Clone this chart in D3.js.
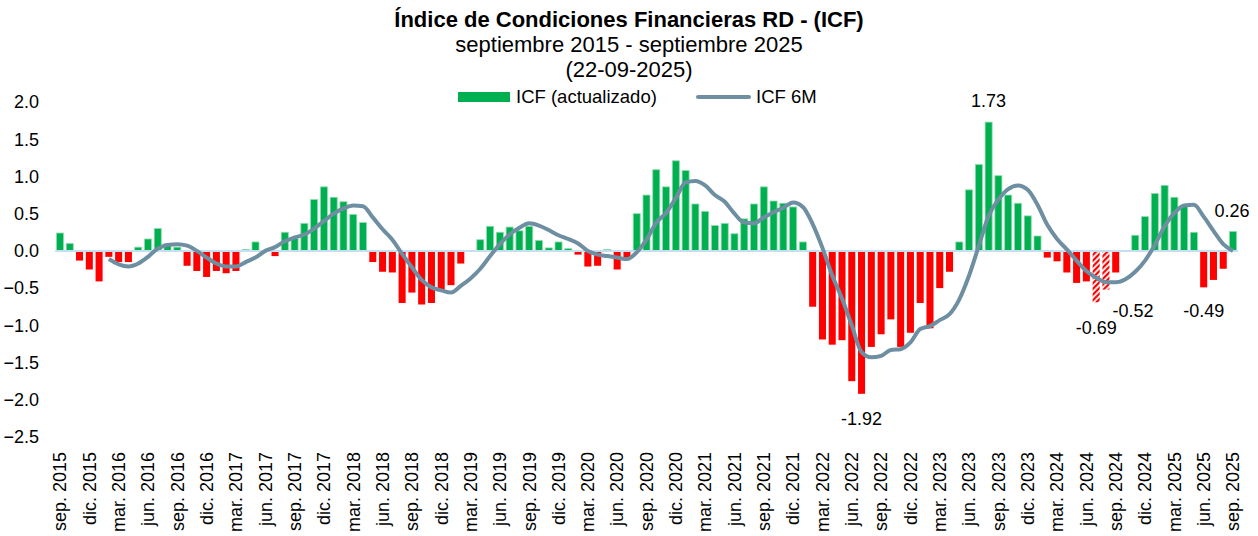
<!DOCTYPE html>
<html>
<head>
<meta charset="utf-8">
<script src="https://cdn.jsdelivr.net/npm/d3@7"></script>
<style>
  html, body { margin: 0; padding: 0; background: #fff; }
  svg { display: block; font-family: "Liberation Sans", Arial, sans-serif; }
</style>
</head>
<body>
<svg id="chart" width="1258" height="536"></svg>
<script>
// ---------- DATA ----------
const titleText = "Índice de Condiciones Financieras RD - (ICF)";
const subtitleText = "septiembre 2015 - septiembre 2025";
const dateText = "(22-09-2025)";
const legendBars = "ICF (actualizado)";
const legendLine = "ICF 6M";

// monthly ICF values, sep 2015 .. sep 2025
const icf = [
  0.24, 0.10, -0.13, -0.25, -0.41, -0.08, -0.15, -0.15, 0.05, 0.16,
  0.30, 0.10, 0.05, -0.20, -0.27, -0.35, -0.27, -0.30, -0.27, 0.02,
  0.12, 0.00, -0.07, 0.25, 0.17, 0.37, 0.69, 0.86, 0.72, 0.66,
  0.49, 0.38, -0.15, -0.28, -0.29, -0.70, -0.56, -0.72, -0.70, -0.52,
  -0.46, -0.17, 0.00, 0.15, 0.33, 0.25, 0.32, 0.27, 0.33, 0.14,
  0.04, 0.12, 0.03, -0.05, -0.21, -0.20, 0.02, -0.25, -0.09, 0.50,
  0.75, 1.09, 0.86, 1.21, 1.08, 0.63, 0.53, 0.34, 0.37, 0.23,
  0.43, 0.63, 0.86, 0.67, 0.64, 0.59, 0.12, -0.75, -1.19, -1.26,
  -1.20, -1.75, -1.92, -1.29, -1.12, -0.92, -1.29, -1.10, -0.70, -1.04,
  -0.50, -0.28, 0.12, 0.82, 1.16, 1.73, 1.01, 0.75, 0.64, 0.47,
  0.20, -0.09, -0.14, -0.29, -0.43, -0.41, -0.69, -0.52, -0.29, 0.00,
  0.21, 0.46, 0.77, 0.88, 0.72, 0.61, 0.25, -0.49, -0.39, -0.24,
  0.26
];

// bars drawn hatched (revised months)
const hatchedIdx = [106, 107];

// ICF 6M line (starts feb 2016)
const icf6m = [
  null, null, null, null, null, -0.11, -0.18, -0.21, -0.17, -0.08,
  0.03, 0.08, 0.09, 0.07, 0.00, -0.09, -0.17, -0.21, -0.21, -0.15,
  -0.09, 0.00, 0.05, 0.13, 0.18, 0.22, 0.30, 0.40, 0.50, 0.57,
  0.61, 0.60, 0.45, 0.29, 0.15, -0.04, -0.22, -0.39, -0.49, -0.53,
  -0.56, -0.47, -0.37, -0.24, -0.07, 0.09, 0.22, 0.31, 0.37, 0.34,
  0.28, 0.21, 0.16, 0.10, 0.00, -0.05, -0.07, -0.09, -0.11, -0.02,
  0.15, 0.38, 0.51, 0.71, 0.92, 0.94, 0.88, 0.75, 0.66, 0.50,
  0.38, 0.37, 0.45, 0.52, 0.58, 0.65, 0.59, 0.36, 0.04, -0.33,
  -0.64, -1.00, -1.36, -1.43, -1.41, -1.33, -1.32, -1.23, -1.05, -1.01,
  -0.93, -0.85, -0.65, -0.33, 0.07, 0.47, 0.69, 0.83, 0.88, 0.82,
  0.62, 0.35, 0.16, 0.02, -0.13, -0.27, -0.36, -0.42, -0.42, -0.38,
  -0.28, -0.13, 0.08, 0.33, 0.51, 0.61, 0.62, 0.46, 0.27, 0.09,
  0.00
];

// x tick labels (every 3 months from sep 2015)
const tickLabels = [
  "sep. 2015", "dic. 2015", "mar. 2016", "jun. 2016", "sep. 2016", "dic. 2016",
  "mar. 2017", "jun. 2017", "sep. 2017", "dic. 2017", "mar. 2018", "jun. 2018",
  "sep. 2018", "dic. 2018", "mar. 2019", "jun. 2019", "sep. 2019", "dic. 2019",
  "mar. 2020", "jun. 2020", "sep. 2020", "dic. 2020", "mar. 2021", "jun. 2021",
  "sep. 2021", "dic. 2021", "mar. 2022", "jun. 2022", "sep. 2022", "dic. 2022",
  "mar. 2023", "jun. 2023", "sep. 2023", "dic. 2023", "mar. 2024", "jun. 2024",
  "sep. 2024", "dic. 2024", "mar. 2025", "jun. 2025", "sep. 2025"
];
const tickStep = 3;

const yTicks = [2.0, 1.5, 1.0, 0.5, 0.0, -0.5, -1.0, -1.5, -2.0, -2.5];

// labelled bars: index and text
const labelIdx = [95, 82, 106, 107, 117, 120];
const labelText = ["1.73", "-1.92", "-0.69", "-0.52", "-0.49", "0.26"];

// ---------- STYLE / LAYOUT ----------
const GREEN = "#00b050", GREEN_EDGE = "#8fdcae", RED = "#ff0000";
const LINE = "#6e8ea2", ZERO = "#c5dff0";
const labelOffset = { 95: [0, -21], 82: [0, 25], 106: [0, 25], 107: [27, 21], 117: [0, 23], 120: [-1, -21] };

const svg = d3.select("#chart");
const idx = d3.range(icf.length);

const x = d3.scaleBand().domain(idx).range([55.1, 1237.9]).paddingInner(0.28).paddingOuter(0.14);
const y = d3.scaleLinear().domain([-2.5, 2.0]).range([437, 102]);
const cx = i => x(i) + x.bandwidth() / 2;

// pattern for hatched bars
const defs = svg.append("defs");
const pat = defs.append("pattern").attr("id", "hatch").attr("patternUnits", "userSpaceOnUse")
  .attr("width", 4).attr("height", 4).attr("patternTransform", "rotate(45)");
pat.append("rect").attr("width", 4).attr("height", 4).attr("fill", "#fff");
pat.append("rect").attr("width", 2.2).attr("height", 4).attr("fill", RED);

// titles
svg.append("text").attr("x", 629).attr("y", 27).attr("text-anchor", "middle")
  .attr("font-size", 22).attr("font-weight", "bold").text(titleText);
svg.append("text").attr("x", 629).attr("y", 52).attr("text-anchor", "middle")
  .attr("font-size", 22).text(subtitleText);
svg.append("text").attr("x", 629).attr("y", 77).attr("text-anchor", "middle")
  .attr("font-size", 22).text(dateText);

// legend
const lg = svg.append("g");
lg.append("rect").attr("x", 458).attr("y", 92).attr("width", 52).attr("height", 10).attr("fill", GREEN);
lg.append("text").attr("x", 516).attr("y", 97).attr("dy", "0.35em").attr("font-size", 18.5).text(legendBars);
lg.append("line").attr("x1", 698).attr("x2", 749).attr("y1", 97).attr("y2", 97)
  .attr("stroke", LINE).attr("stroke-width", 4).attr("stroke-linecap", "round");
lg.append("text").attr("x", 756).attr("y", 97).attr("dy", "0.35em").attr("font-size", 18.5).text(legendLine);

// y axis labels
svg.append("g").selectAll("text").data(yTicks).join("text")
  .attr("x", 39).attr("y", d => y(d)).attr("dy", "0.35em").attr("text-anchor", "end")
  .attr("font-size", 18).text(d => d3.format(".1f")(d));

// bars
svg.append("g").selectAll("rect").data(idx).join("rect")
  .attr("x", i => x(i))
  .attr("width", x.bandwidth())
  .attr("y", i => y(Math.max(0, icf[i])))
  .attr("height", i => Math.abs(y(icf[i]) - y(0)))
  .attr("fill", i => hatchedIdx.includes(i) ? "url(#hatch)" : (icf[i] >= 0 ? GREEN : RED))
  .attr("stroke", i => icf[i] >= 0 ? GREEN_EDGE : "none")
  .attr("stroke-width", 0.8);

// zero line
svg.append("line").attr("x1", x.range()[0]).attr("x2", x.range()[1])
  .attr("y1", y(0)).attr("y2", y(0)).attr("stroke", ZERO).attr("stroke-width", 2);

// 6M line
const lineGen = d3.line().defined(d => d != null).x((d, i) => cx(i)).y(d => y(d)).curve(d3.curveMonotoneX);
svg.append("path").datum(icf6m).attr("d", lineGen).attr("fill", "none")
  .attr("stroke", LINE).attr("stroke-width", 4).attr("stroke-linejoin", "round");

// x tick labels
svg.append("g").selectAll("text").data(tickLabels).join("text")
  .attr("transform", (d, k) => `translate(${cx(k * tickStep)},452) rotate(-90)`)
  .attr("text-anchor", "end").attr("dy", "0.35em").attr("font-size", 18).text(d => d);

// data labels
svg.append("g").selectAll("text").data(labelIdx).join("text")
  .attr("x", (i) => cx(i) + labelOffset[i][0])
  .attr("y", (i) => (icf[i] >= 0 ? y(icf[i]) : y(icf[i])) + labelOffset[i][1])
  .attr("dy", "0.35em").attr("text-anchor", "middle").attr("font-size", 18)
  .text((i, k) => labelText[k]);
</script>
</body>
</html>
